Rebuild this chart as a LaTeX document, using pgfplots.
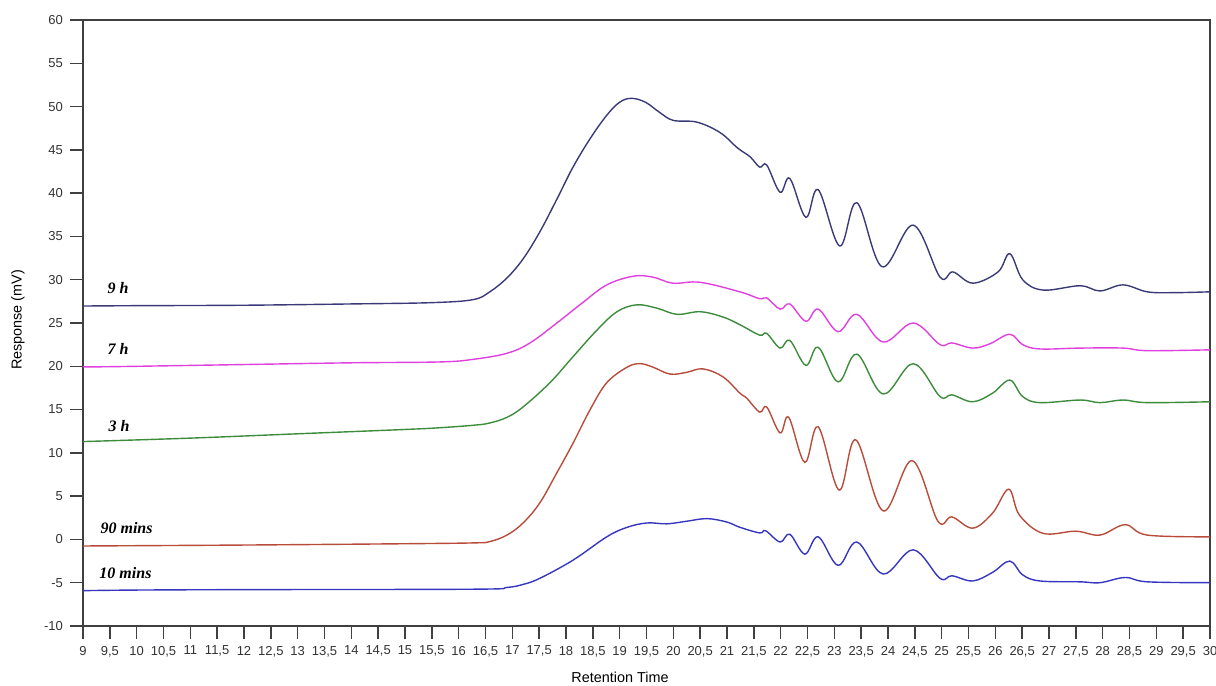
\documentclass[border=0pt]{standalone}
\usepackage{pgfplots}
\pgfplotsset{compat=1.18}
\usepackage{fontspec}
\setmainfont{Liberation Sans}
\newfontfamily\tnr{Liberation Serif}
\definecolor{cNine}{HTML}{3A3A78}
\definecolor{cSeven}{HTML}{E040E0}
\definecolor{cThree}{HTML}{3C8C3C}
\definecolor{cNinety}{HTML}{B84C3A}
\definecolor{cTen}{HTML}{3636C0}
\definecolor{axgray}{HTML}{404040}
\begin{document}
\begin{tikzpicture}
\begin{axis}[
  scale only axis,
  width=563.5pt, height=303pt,
  xmin=9, xmax=30, ymin=-10, ymax=60,
  xtick distance=0.5, ytick distance=5,
  tick align=outside, tick pos=left,
  major tick length=6.5pt,
  axis line style={axgray, line width=0.75pt},
  every tick/.style={axgray, line width=0.75pt},
  /pgf/number format/assume math mode=true,
  /pgf/number format/use comma,
  /pgf/number format/1000 sep={},
  ticklabel style={font=\fontsize{6.5}{7}\selectfont, text=black!80},
  xlabel={Retention Time}, ylabel={Response (mV)},
  label style={font=\fontsize{7.2}{8}\selectfont},
  xlabel style={at={(axis description cs:0.4765,-0.0842)}, anchor=center},
  ylabel style={at={(axis description cs:-0.0577,0.505)}, anchor=center},
  every axis plot/.append style={line width=0.7pt, smooth, tension=0.6, no markers},
]
\coordinate (sw) at (rel axis cs:0,0);
\coordinate (ne) at (rel axis cs:1,1);
% 9 h
\addplot[cNine] coordinates {
(9,26.96)(10,27.0)(12,27.05)(14,27.2)(15.5,27.35)(16.27,27.7)(16.58,28.6)(16.90,30.2)(17.20,32.4)(17.51,35.5)(17.83,39.3)(18.13,43.0)(18.45,46.3)(18.76,49.0)(19.0,50.5)(19.22,50.95)(19.48,50.5)(19.75,49.3)(20.0,48.4)(20.44,48.2)(20.87,47.0)(21.2,45.2)(21.43,44.2)(21.61,43.0)(21.74,43.25)(21.99,40.1)(22.17,41.7)(22.47,37.2)(22.70,40.4)(23.10,33.9)(23.42,38.9)(23.89,31.5)(24.47,36.3)(24.97,30.3)(25.21,30.9)(25.58,29.6)(26.05,30.9)(26.27,33.0)(26.51,30.0)(26.89,28.8)(27.58,29.3)(27.95,28.7)(28.38,29.4)(28.83,28.6)(29.31,28.5)(30,28.6)
};
% 7 h
\addplot[cSeven] coordinates {
(9,19.95)(9.5,19.95)(12,20.2)(14,20.4)(15.65,20.5)(16.27,20.8)(16.90,21.5)(17.33,22.7)(17.83,25.0)(18.32,27.4)(18.76,29.4)(19.25,30.4)(19.62,30.3)(19.99,29.6)(20.5,29.7)(21.24,28.6)(21.61,27.8)(21.74,27.9)(21.99,26.6)(22.17,27.2)(22.47,25.2)(22.70,26.6)(23.07,24.0)(23.42,26.0)(23.91,22.8)(24.47,25.0)(24.97,22.5)(25.19,22.7)(25.58,22.1)(25.9,22.6)(26.27,23.7)(26.51,22.5)(26.83,22.0)(27.58,22.1)(28.38,22.1)(28.83,21.8)(30,21.9)
};
% 3 h
\addplot[cThree] coordinates {
(9,11.3)(11,11.7)(13,12.2)(15,12.7)(15.65,12.9)(16.3,13.2)(16.58,13.45)(16.9,14.1)(17.2,15.3)(17.70,18.1)(18.13,21.1)(18.58,24.2)(18.95,26.3)(19.32,27.1)(19.70,26.7)(20.07,26.0)(20.5,26.3)(20.92,25.7)(21.24,24.8)(21.61,23.6)(21.74,23.8)(21.99,22.1)(22.17,23.0)(22.47,20.1)(22.70,22.2)(23.07,18.2)(23.42,21.4)(23.91,16.8)(24.47,20.3)(24.97,16.5)(25.19,16.7)(25.58,15.9)(25.95,16.9)(26.27,18.4)(26.51,16.5)(26.83,15.8)(27.58,16.1)(27.95,15.8)(28.38,16.1)(28.83,15.8)(30,15.9)
};
% 90 mins
\addplot[cNinety] coordinates {
(9,-0.76)(12,-0.65)(15,-0.5)(16.3,-0.4)(16.58,-0.25)(16.9,0.5)(17.2,1.9)(17.51,4.2)(17.83,7.7)(18.13,11.1)(18.45,15.0)(18.76,18.1)(19.14,19.9)(19.38,20.3)(19.62,19.9)(19.94,19.1)(20.25,19.3)(20.55,19.7)(20.92,18.8)(21.24,16.9)(21.37,16.3)(21.61,14.7)(21.74,15.3)(21.99,12.3)(22.15,14.1)(22.45,8.9)(22.70,13.0)(23.09,5.7)(23.40,11.5)(23.91,3.3)(24.45,9.1)(24.93,2.1)(25.19,2.6)(25.58,1.3)(25.95,3.05)(26.25,5.8)(26.45,2.8)(26.89,0.7)(27.5,0.95)(27.95,0.5)(28.42,1.7)(28.83,0.5)(30,0.3)
};
% 10 mins
\addplot[cTen] coordinates {
(9,-5.92)(10,-5.85)(12,-5.8)(16.3,-5.75)(16.9,-5.55)(17.2,-5.2)(17.51,-4.5)(18.13,-2.4)(18.76,0.3)(19.14,1.4)(19.51,1.9)(19.88,1.8)(20.25,2.1)(20.63,2.4)(21.0,2.0)(21.24,1.4)(21.61,0.75)(21.72,1.0)(21.99,-0.3)(22.17,0.6)(22.45,-1.7)(22.70,0.3)(23.07,-3.0)(23.42,-0.3)(23.91,-4.0)(24.47,-1.2)(24.97,-4.5)(25.19,-4.2)(25.58,-4.8)(25.95,-3.8)(26.27,-2.5)(26.51,-4.1)(26.83,-4.8)(27.58,-4.9)(27.95,-5.0)(28.42,-4.4)(28.83,-4.9)(30,-5.0)
};
\begin{scope}[every node/.style={anchor=west, inner sep=0pt, font=\tnr\bfseries\itshape\fontsize{8}{9}\selectfont}]
\node at (axis cs:9.45,29.0) {9 h};
\node at (axis cs:9.45,22.0) {7 h};
\node at (axis cs:9.47,13.1) {3 h};
\node at (axis cs:9.32,1.3) {90 mins};
\node at (axis cs:9.30,-3.9) {10 mins};
\end{scope}
\end{axis}
\pgfresetboundingbox
\path ([shift={(-41.5pt,-30pt)}]sw) rectangle ([shift={(3pt,10pt)}]ne);
\end{tikzpicture}
\end{document}
